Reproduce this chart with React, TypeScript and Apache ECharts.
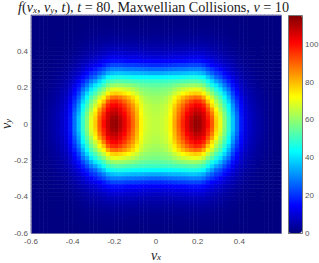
import React, { useEffect, useRef } from "react";
import * as echarts from "echarts";

const xTicks = [-0.6, -0.4, -0.2, 0, 0.2, 0.4];
const yTicks = [-0.6, -0.4, -0.2, 0, 0.2, 0.4];
const barTicks = [0, 20, 40, 60, 80, 100];
const jet = ["#00007f", "#0000ff", "#007fff", "#00ffff", "#7fff7f", "#ffff00", "#ff7f00", "#ff0000", "#7f0000"];
const colorMax = 115.6;

// Readings of f from the upper-left quadrant, left to right (vx = -0.59 .. -0.01),
// top to bottom (vy = 0.589 .. 0.011); the other quadrants are its reflections.
const quadrant = [
  [.1,.1,.1,.1,.1,.1,.1,.1,.1,.1,.2,.2,.2,.3,.3,.3,.4,.4,.4,.4,.4,.4,.4,.4,.4,.4,.4,.4,.4,.4],
  [.1,.1,.1,.1,.1,.1,.1,.1,.2,.2,.2,.3,.3,.4,.5,.5,.5,.6,.6,.6,.6,.6,.6,.6,.6,.5,.5,.5,.5,.5],
  [.1,.1,.1,.1,.1,.1,.1,.2,.2,.3,.3,.4,.5,.6,.7,.7,.8,.8,.9,.9,.9,.9,.9,.9,.8,.8,.8,.8,.8,.8],
  [.1,.1,.1,.1,.1,.1,.2,.2,.3,.3,.4,.5,.6,.8,.9,1,1.1,1.2,1.2,1.2,1.2,1.2,1.2,1.2,1.1,1.1,1.1,1.1,1.1,1.1],
  [.1,.1,.1,.1,.1,.2,.2,.3,.3,.4,.5,.7,.9,1,1.2,1.4,1.5,1.6,1.8,1.8,1.8,1.8,1.8,1.7,1.7,1.7,1.6,1.6,1.6,1.6],
  [.1,.1,.1,.1,.2,.2,.3,.3,.4,.5,.7,.9,1.2,1.4,1.6,1.8,2.1,2.3,2.5,2.6,2.6,2.6,2.5,2.5,2.4,2.4,2.4,2.3,2.3,2.3],
  [.1,.1,.1,.2,.2,.3,.3,.4,.5,.6,1,1.2,1.5,1.9,2.2,2.5,2.8,3,3.4,3.5,3.5,3.5,3.4,3.3,3.3,3.2,3.1,3,3,3],
  [.1,.1,.2,.2,.3,.3,.4,.5,.6,.8,1.2,1.6,2,2.4,3,3.3,3.8,4.2,4.8,5,5,5,4.9,4.7,4.6,4.5,4.4,4.3,4.2,4.2],
  [.1,.1,.2,.2,.3,.4,.4,.6,.8,1,1.5,1.9,2.6,3.1,3.8,4.3,5,5.7,6.2,6.5,6.5,6.5,6.3,6.2,6,6,5.8,5.6,5.5,5.5],
  [.2,.2,.2,.3,.3,.4,.6,.7,1,1.4,2,2.6,3.3,4.2,5,5.5,6.4,7.2,8.5,9,9,9,8.7,8.5,8.4,8.2,8,7.8,7.6,7.5],
  [.2,.2,.2,.3,.4,.6,.7,1,1.2,1.8,2.6,3.3,4.5,5.4,6.4,7.5,8.6,9.8,11,12,12,12,11.5,11,11,11,10.5,10,10,10],
  [.2,.2,.3,.4,.6,.7,1,1.3,1.6,2.4,3.2,4.5,5.8,6.8,8.5,9.5,11.5,13,15,16,16,16,15.5,15,15,15,14.5,14,14,14],
  [.2,.3,.3,.5,.6,.9,1.1,1.5,2,3,4.2,5.6,7.3,9,11,12.5,14.5,17,20,22,22,22,21.5,21,21,20.5,20,19.5,19,19],
  [.2,.3,.4,.6,.8,1.1,1.5,2,2.6,3.7,5.4,7,9,11.5,14,17,20,23,27,29,29,29,28.5,28,28,27.5,27,26.5,26,26],
  [.3,.3,.5,.8,.9,1.3,1.8,2.4,3.1,4.7,6.3,8.5,11.5,15,19,21,25,29,34,36,37,37,36.5,36,35.5,35.5,35,34.5,34,34],
  [.3,.4,.6,.9,1.1,1.6,2.2,3,3.8,5.6,8,10.5,15,18,23,26,32,37,43,45,46,46,45.5,45,44.5,44,43.5,43,43,43],
  [.3,.5,.7,1,1.4,1.9,2.6,3.4,4.7,6.5,9.5,13,18,23,29,33,39,45,50,52,53,53,52.5,52,51.5,51,50.5,50,50,50],
  [.4,.6,.8,1.2,1.6,2.2,3,4,5.2,8,11.5,16,22,28,35,41,46,51,57,60,61,60.5,60,59,58,56.5,55,54.5,54,54],
  [.4,.7,.9,1.3,1.9,2.6,3.4,4.8,6,9,13.5,18.5,27,33,41,47,53,58,65,69,70,69,67.5,66,64,61.5,59,58,57.5,57],
  [.5,.7,1,1.5,2.1,3,4,5.3,7,10,15.5,22,31,39,47,52,59,65,73,77,78,76.5,74.5,72,69,66,62,60,59.5,59],
  [.5,.8,1.1,1.7,2.3,3.2,4.4,6,8,12,18,25,35,44,52,58,66,73,82,88,89,87,84,80,76,71,66,63,61.5,61],
  [.6,.9,1.2,1.9,2.6,3.5,5,6.4,8.7,13,20,28,39,48,56,63,72,79,91,96,97,94,90,85,80,74,68,64,63,62],
  [.6,.9,1.3,2.1,2.8,3.9,5.3,7,9.5,15,22,31,43,51,60,67,76,87,97,101,102,99,95,89,84,77,70,66,64.5,63.5],
  [.7,1,1.4,2.2,3,4.2,5.7,7.5,10,15.5,24,33,45,54,63,72,83,92,101,105,106,103,98,92,86,79,71,66.5,65,64],
  [.7,1,1.4,2.3,3.2,4.4,6,8,10.5,16,26,35,47,57,67,75,87,96,105,108,109,105,101,94,88,80,72,67,65.5,64.5],
  [.8,1,1.5,2.4,3.3,4.6,6.1,8.4,11,17,27,37,49,58,69,77,90,98,106,111,112,108,103,96,89,81,73,68,66,65],
  [.8,1,1.5,2.4,3.3,4.6,6.1,8.4,11,17,27,37,49,59,70,78,91,100,107,112,113,109,104,97,90,82,73,68,66,65],
];

const fullRows = [...quadrant, ...[...quadrant].reverse()].map((r) => [...r, ...[...r].reverse()]);
const vxCells = fullRows[0].map((_, i) => String(i));
const vyCells = fullRows.map((_, j) => String(j));
const cells: number[][] = [];
fullRows.forEach((row, j) => row.forEach((v, i) => cells.push([i, fullRows.length - 1 - j, v])));

const mathRich = {
  i: { fontFamily: "Liberation Serif", fontStyle: "italic", fontWeight: "normal", fontSize: 14, color: "#222" },
  s: { fontFamily: "Liberation Serif", fontStyle: "italic", fontWeight: "normal", fontSize: 9, color: "#222", padding: [4, 0, 0, 0] },
};
const titleRich = {
  n: { fontFamily: "Liberation Serif", fontWeight: "normal", fontSize: 14.2, color: "#222" },
  i: { fontFamily: "Liberation Serif", fontStyle: "italic", fontWeight: "normal", fontSize: 14.2, color: "#222" },
  s: { fontFamily: "Liberation Serif", fontStyle: "italic", fontWeight: "normal", fontSize: 9, color: "#222", padding: [5, 0, 0, 0] },
};
const tickFont = { fontFamily: "Liberation Sans", fontSize: 8, color: "#555" };

export default function App() {
  const ref = useRef<HTMLDivElement>(null);
  useEffect(() => {
    document.body.style.margin = "0";
    const chart = echarts.init(ref.current!, null, { renderer: "svg" });
    chart.setOption({
      animation: false,
      backgroundColor: "#fff",
      title: {
        text: "{i|f}{n|(}{i|v}{s|x}{n|, }{i|v}{s|y}{n|, }{i|t}{n|), }{i|t}{n| = 80, Maxwellian Collisions, }{i|ν}{n| = 10}",
        left: 18,
        top: 0,
        padding: 0,
        textStyle: { fontWeight: "normal", rich: titleRich },
      },
      grid: [
        { left: 31, top: 15, width: 250, height: 218, outerBoundsMode: "none" },
        { left: 288, top: 15, width: 14, height: 218, outerBoundsMode: "none" },
      ],
      xAxis: [
        { type: "category", gridIndex: 0, data: vxCells, show: false },
        {
          type: "value", gridIndex: 0, position: "bottom", min: -0.6, max: 0.6,
          name: "{i|v}{s|x}", nameLocation: "middle", nameGap: 15, nameMoveOverlap: false,
          nameTextStyle: { rich: mathRich },
          axisLine: { show: false }, splitLine: { show: false },
          axisTick: { show: false },
          axisLabel: { ...tickFont, margin: 4, customValues: xTicks, hideOverlap: false },
        },
        { type: "value", gridIndex: 1, show: false, min: 0, max: 1 },
      ],
      yAxis: [
        { type: "category", gridIndex: 0, data: vyCells, show: false },
        {
          type: "value", gridIndex: 0, position: "left", min: -0.6, max: 0.6,
          name: "{i|v}{s|y}", nameLocation: "middle", nameGap: 18, nameRotate: 90, nameMoveOverlap: false,
          nameTextStyle: { rich: mathRich },
          axisLine: { show: false }, splitLine: { show: false },
          axisTick: { show: false },
          axisLabel: { ...tickFont, margin: 3, customValues: yTicks },
        },
        {
          type: "value", gridIndex: 1, position: "right", min: 0, max: colorMax,
          axisLine: { show: false }, splitLine: { show: false },
          axisTick: { show: true, length: 2, lineStyle: { color: "#666" }, customValues: barTicks },
          axisLabel: { ...tickFont, margin: 3, customValues: barTicks },
        },
      ],
      visualMap: {
        type: "continuous",
        min: 0,
        max: colorMax,
        seriesIndex: 0,
        left: 288,
        top: 15,
        padding: 0,
        itemWidth: 14,
        itemHeight: 218,
        text: ["", ""],
        showLabel: false,
        calculable: false,
        hoverLink: false,
        inRange: { color: jet },
      },
      graphic: [
        { type: "rect", z: 100, silent: true, shape: { x: 31.5, y: 15.5, width: 250, height: 218 }, style: { fill: "none", stroke: "#6a6aa0", lineWidth: 1 } },
        { type: "rect", z: 100, silent: true, shape: { x: 288.5, y: 15.5, width: 14, height: 218 }, style: { fill: "none", stroke: "#777", lineWidth: 1 } },
      ],
      series: [
        { type: "heatmap", xAxisIndex: 0, yAxisIndex: 0, data: cells, silent: true, itemStyle: { borderWidth: 0 } },
      ],
    });
    return () => chart.dispose();
  }, []);
  return <div ref={ref} style={{ width: 319, height: 263 }} />;
}
